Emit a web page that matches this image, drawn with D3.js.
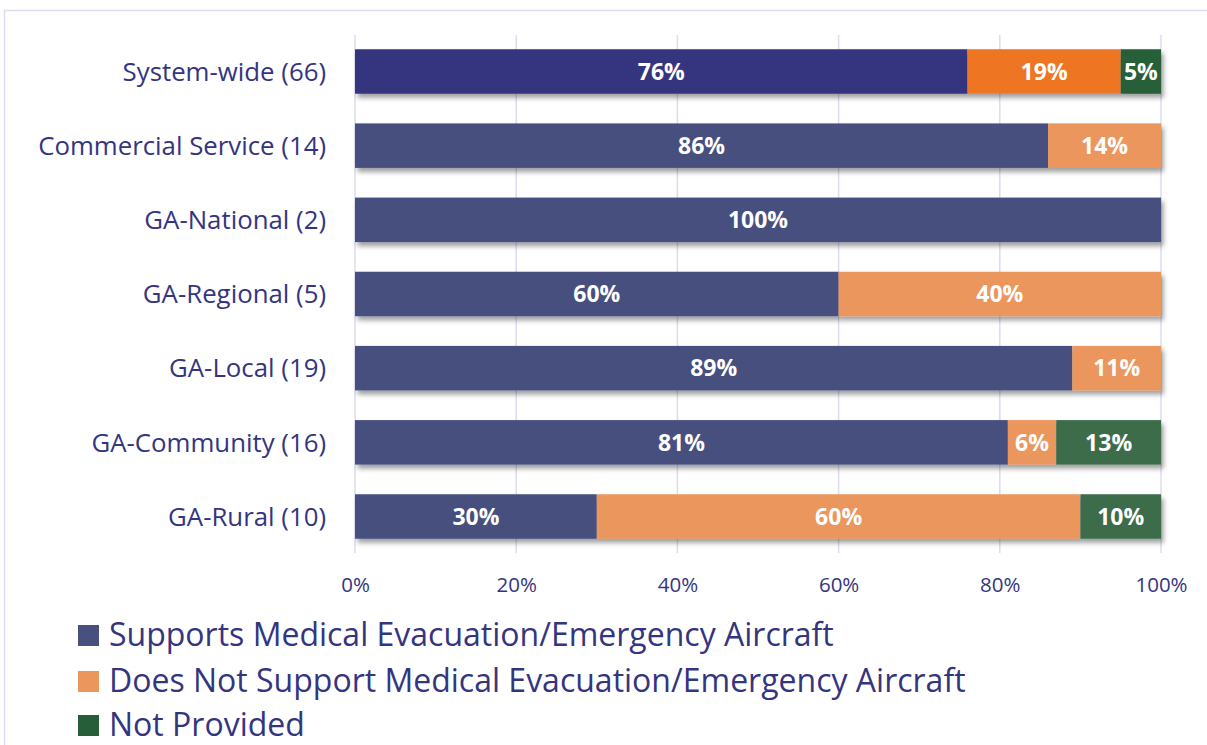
<!DOCTYPE html>
<html>
<head>
<meta charset="utf-8">
<script src="https://cdn.jsdelivr.net/npm/d3@7/dist/d3.min.js"></script>
<style>
  html, body { margin: 0; padding: 0; background: #fff; }
  svg { display: block; }
</style>
</head>
<body>
<svg id="chart" width="1207" height="745"></svg>
<script>
// Airport categories (number of airports in parentheses)
const categories = [
  "System-wide (66)",
  "Commercial Service (14)",
  "GA-National (2)",
  "GA-Regional (5)",
  "GA-Local (19)",
  "GA-Community (16)",
  "GA-Rural (10)"
];
// Share of airports per response, in percent
const supports    = [76, 86, 100, 60, 89, 81, 30];
const doesNot     = [19, 14,   0, 40, 11,  6, 60];
const notProvided = [ 5,  0,   0,  0,  0, 13, 10];

const seriesNames = [
  "Supports Medical Evacuation/Emergency Aircraft",
  "Does Not Support Medical Evacuation/Emergency Aircraft",
  "Not Provided"
];
const xTicks = [0, 20, 40, 60, 80, 100];

const seriesColors    = ["#47507F", "#EB965D", "#3C6C4B"];
const highlightColors = ["#35357F", "#EE7623", "#255E39"]; // system-wide row
const legendColors    = ["#47507F", "#EB965D", "#255E39"];
const textColor = "#34357F";
const gridColor = "#DCDCEF";

const keys = ["supports", "doesNot", "notProvided"];
const rows = categories.map((c, i) => ({
  category: c, supports: supports[i], doesNot: doesNot[i], notProvided: notProvided[i]
}));
const stacked = d3.stack().keys(keys)(rows);

const svg = d3.select("#chart");

// outer frame
svg.append("path")
  .attr("d", "M4.5,745 V10.5 H1207")
  .attr("fill", "none")
  .attr("stroke", "#DDDDF0")
  .attr("stroke-width", 1.5);

const defs = svg.append("defs");
const f = defs.append("filter").attr("id", "shadow")
  .attr("x", "-5%").attr("y", "-30%").attr("width", "115%").attr("height", "180%");
f.append("feDropShadow")
  .attr("dx", 2.5).attr("dy", 4).attr("stdDeviation", 2.5)
  .attr("flood-color", "#000").attr("flood-opacity", 0.38);

const x = d3.scaleLinear().domain([0, 100]).range([355, 1161]);
const y = d3.scaleBand().domain(categories).range([35, 553])
  .paddingInner(0.4).paddingOuter(0.192);

// vertical gridlines
svg.append("g").selectAll("line").data(xTicks).join("line")
  .attr("x1", d => x(d)).attr("x2", d => x(d))
  .attr("y1", 35).attr("y2", 553)
  .attr("stroke", gridColor).attr("stroke-width", 1.5);

// bars, one shadowed group per category
const barGroups = svg.append("g").selectAll("g.row").data(categories).join("g")
  .attr("class", "row")
  .attr("filter", "url(#shadow)");

barGroups.each(function(cat, i) {
  const g = d3.select(this);
  stacked.forEach((layer, k) => {
    const d = layer[i];
    if (d[1] - d[0] <= 0) return;
    g.append("rect")
      .attr("x", x(d[0]))
      .attr("y", y(cat))
      .attr("width", x(d[1]) - x(d[0]))
      .attr("height", y.bandwidth())
      .attr("fill", i === 0 ? highlightColors[k] : seriesColors[k]);
  });
});

// value labels
const labels = svg.append("g")
  .attr("font-family", "'Open Sans', sans-serif")
  .attr("font-weight", "bold")
  .attr("font-size", 23)
  .attr("fill", "#fff")
  .attr("text-anchor", "middle");
stacked.forEach((layer, k) => {
  layer.forEach((d, i) => {
    const v = d[1] - d[0];
    if (v <= 0) return;
    labels.append("text")
      .attr("x", (x(d[0]) + x(d[1])) / 2)
      .attr("y", y(categories[i]) + y.bandwidth() / 2)
      .attr("dy", "0.36em")
      .text(v + "%");
  });
});

// category axis labels
svg.append("g")
  .attr("font-family", "'Open Sans', sans-serif")
  .attr("font-size", 25.8)
  .attr("fill", textColor)
  .attr("text-anchor", "end")
  .selectAll("text").data(categories).join("text")
  .attr("x", 326)
  .attr("y", d => y(d) + y.bandwidth() / 2)
  .attr("dy", "0.36em")
  .text(d => d);

// percentage axis
const xAxis = svg.append("g")
  .attr("transform", "translate(0,553)")
  .call(d3.axisBottom(x).tickValues(xTicks).tickFormat(d => d + "%").tickSize(0).tickPadding(0));
xAxis.select(".domain").remove();
xAxis.selectAll("text")
  .attr("font-family", "'Open Sans', sans-serif")
  .attr("font-size", 20.5)
  .attr("fill", textColor)
  .attr("dy", null)
  .attr("y", 39);

// legend
const legend = svg.append("g")
  .attr("font-family", "'Open Sans', sans-serif")
  .attr("font-size", 32)
  .attr("fill", textColor);
const legendY = [634, 680, 724];
seriesNames.forEach((name, k) => {
  legend.append("rect")
    .attr("x", 78).attr("y", legendY[k] - 9)
    .attr("width", 21).attr("height", 21)
    .attr("fill", legendColors[k]);
  legend.append("text")
    .attr("x", 109).attr("y", legendY[k])
    .attr("dy", "0.36em")
    .text(name);
});
</script>
</body>
</html>
